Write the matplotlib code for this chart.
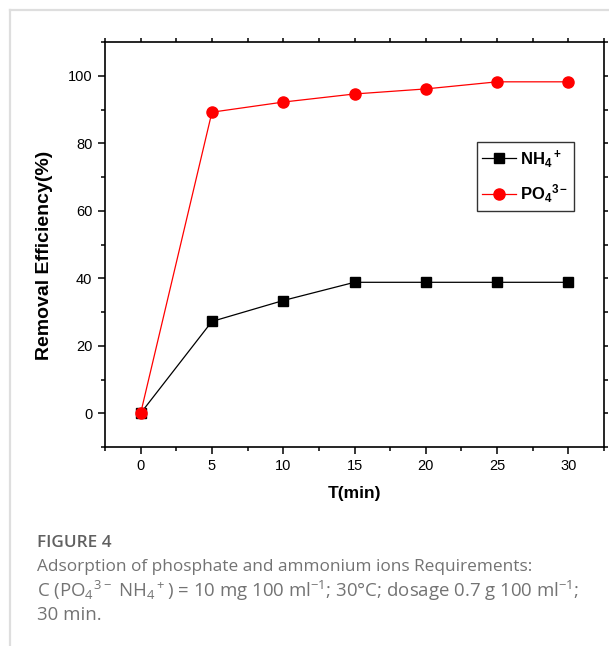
import numpy as np
import matplotlib
matplotlib.use('Agg')
import matplotlib.pyplot as plt
from matplotlib.ticker import MultipleLocator
from matplotlib.lines import Line2D

# data
t = [0, 5, 10, 15, 20, 25, 30]
nh4 = [0, 27.2, 33.4, 38.8, 38.8, 38.8, 38.8]
po4 = [0, 89.2, 92.2, 94.6, 96.1, 98.2, 98.2]
lab_nh4 = r'$\mathregular{NH_4{}^+}$'
lab_po4 = r'$\mathregular{PO_4{}^{3-}}$'

W, H = 609, 646
fig = plt.figure(figsize=(W/100, H/100), dpi=100)

# card border (top + left)
fig.add_artist(Line2D([10/W, 1], [1-10/H, 1-10/H], color='#dedede', lw=1.6))
fig.add_artist(Line2D([10/W, 10/W], [0, 1-10/H], color='#dedede', lw=1.6))

ax = fig.add_axes([105/W, 1-447/H, (604-105)/W, (447-42)/H])
ax.plot(t, nh4, color='black', lw=0.9, marker='s', ms=6.5, label=lab_nh4)
ax.plot(t, po4, color='red', lw=0.9, marker='o', ms=8, label=lab_po4)

ax.set_xlim(-2.5, 32.5)
ax.set_ylim(-10, 110)
ax.xaxis.set_major_locator(MultipleLocator(5))
ax.xaxis.set_minor_locator(MultipleLocator(2.5))
ax.yaxis.set_minor_locator(MultipleLocator(10))
ax.set_yticks([0, 20, 40, 60, 80, 100])

for s in ax.spines.values():
    s.set_linewidth(1.2)
ax.tick_params(which='major', direction='out', length=5, width=1.1,
               labelsize=10.5, top=True, right=True, pad=4)
ax.tick_params(which='minor', direction='out', length=3, width=1.1,
               top=True, right=True)
for tl in ax.get_xticklabels() + ax.get_yticklabels():
    tl.set_family('Liberation Sans')
# top/right ticks short
for tk in ax.xaxis.get_major_ticks() + ax.xaxis.get_minor_ticks():
    tk.tick2line.set_markersize(3)
for tk in ax.yaxis.get_major_ticks() + ax.yaxis.get_minor_ticks():
    tk.tick2line.set_markersize(3)

ax.set_xlabel('T(min)', fontsize=12.5, fontweight='bold',
              family='Liberation Sans', labelpad=9)
ax.set_ylabel('Removal Efficiency(%)', fontsize=14, fontweight='bold',
              family='Liberation Sans')
ax.yaxis.set_label_coords(-0.104, 0.472)

leg = ax.legend(loc='upper right', bbox_to_anchor=(0.94, 0.753),
                borderaxespad=0, fancybox=False, edgecolor='black',
                handlelength=2.0, handletextpad=0.25, labelspacing=0.75,
                borderpad=0.35,
                prop={'family': 'Liberation Sans', 'weight': 'bold', 'size': 12})
leg.get_frame().set_linewidth(1.0)

# caption
cap = dict(family='Open Sans', color='#737373')
fig.text(37/W, 1-543/H, 'FIGURE 4', va='center', ha='left',
         family='Open Sans', color='#606060', fontsize=12.3, fontweight='semibold')
fig.text(37/W, 1-567/H, 'Adsorption of phosphate and ammonium ions Requirements:',
         va='center', ha='left', fontsize=12.4, **cap)
fig.text(37/W, 1-591/H,
         r'C ($\mathregular{PO_4{}^{3-}}$ $\mathregular{NH_4{}^+}$) = 10 mg 100 ml$\mathregular{^{-1}}$; '
         r'30°C; dosage 0.7 g 100 ml$\mathregular{^{-1}}$;',
         va='center', ha='left', fontsize=13.4, **cap)
fig.text(37/W, 1-615/H, '30 min.', va='center', ha='left', fontsize=13.4, **cap)

fig.savefig('out.png', dpi=100)
